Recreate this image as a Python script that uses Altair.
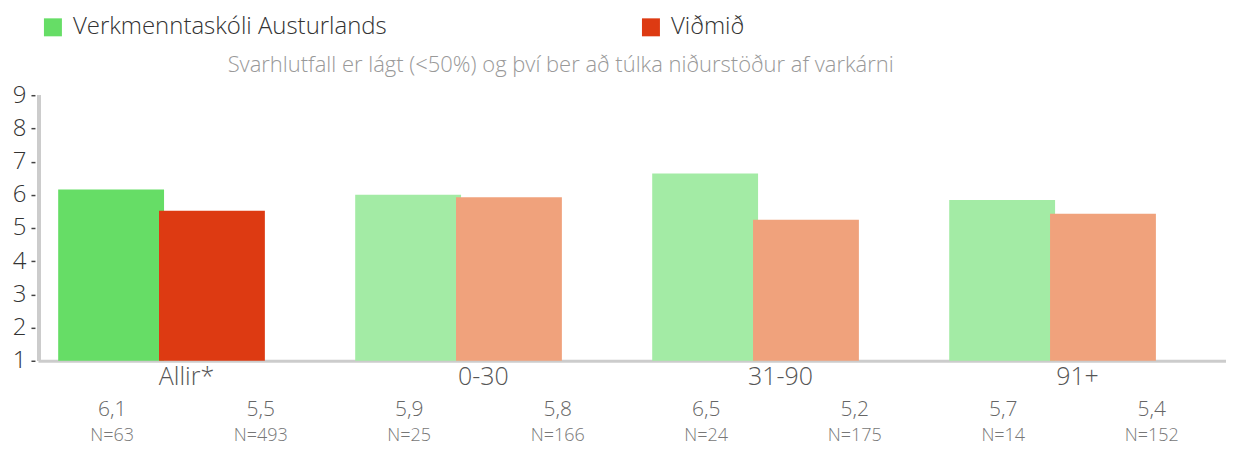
import altair as alt
import pandas as pd

categories = ["Allir*", "0-30", "31-90", "91+"]
series_names = ["Verkmenntaskóli Austurlands", "Viðmið"]
school_values = [6.16, 6.0, 6.64, 5.84]
benchmark_values = [5.52, 5.93, 5.25, 5.43]
school_labels = ["6,1", "5,9", "6,5", "5,7"]
benchmark_labels = ["5,5", "5,8", "5,2", "5,4"]
school_n = [63, 25, 24, 14]
benchmark_n = [493, 166, 175, 152]
subtitle = "Svarhlutfall er lágt (<50%) og því ber að túlka niðurstöður af varkárni"

color_keys = [series_names[0], series_names[1],
              series_names[0] + " (ljós)", series_names[1] + " (ljós)"]
color_range = ["#66DD66", "#DD3A12", "#A3EBA5", "#F0A27C"]

rows = []
for s, vals, labs, ns in [(series_names[0], school_values, school_labels, school_n),
                          (series_names[1], benchmark_values, benchmark_labels, benchmark_n)]:
    for i, c in enumerate(categories):
        key = s if c == "Allir*" else s + " (ljós)"
        rows.append({"category": c, "series": s, "value": vals[i],
                     "label": labs[i], "n": f"N={ns[i]}", "key": key})
df = pd.DataFrame(rows)

FONT = "Open Sans"
W8 = 300
H = 266
W = 1190

x_enc = alt.X("category:N", sort=categories,
              scale=alt.Scale(paddingInner=0, paddingOuter=0),
              axis=alt.Axis(title=None, domain=True, domainColor="#cccccc", domainWidth=3,
                            ticks=False, labelFontSize=25, labelColor="#555555",
                            labelPadding=4, labelAngle=0, labelFont=FONT,
                            labelFontWeight=W8))

bars = alt.Chart(df).mark_bar(width=alt.RelativeBandSize(1.05)).encode(
    x=x_enc,
    xOffset=alt.XOffset("series:N", sort=series_names,
                        scale=alt.Scale(paddingInner=0, paddingOuter=0.473, align=0.29)),
    y=alt.Y("value:Q", scale=alt.Scale(domain=[1, 9], nice=False, zero=False),
            axis=alt.Axis(title=None, values=list(range(1, 10)), format="d", domain=False,
                          grid=False, offset=3, tickSize=4, tickColor="#444444", tickWidth=1.5,
                          labelFontSize=24, labelColor="#333333", labelFont=FONT,
                          labelFontWeight=W8, labelPadding=5)),
    y2=alt.datum(1),
    color=alt.Color("key:N",
                    scale=alt.Scale(domain=color_keys, range=color_range),
                    legend=alt.Legend(orient="none", legendX=3, legendY=-80,
                                      direction="horizontal", title=None,
                                      symbolType="square", symbolSize=324,
                                      symbolStrokeWidth=0, symbolOpacity=1,
                                      labelFontSize=24, labelFont=FONT,
                                      labelFontWeight=W8, labelLimit=0,
                                      labelColor="#333333", columnPadding=252,
                                      labelOffset=8, values=series_names, padding=0)),
)

yline = alt.Chart(df).mark_rule(color="#cccccc", strokeWidth=3).encode(
    x=alt.value(1), y=alt.value(0), y2=alt.value(H)
)

value_text = alt.Chart(df).mark_text(fontSize=21, color="#666666", font=FONT,
                                     fontWeight=W8, baseline="middle").encode(
    x=alt.X("category:N", sort=categories),
    xOffset=alt.XOffset("series:N", sort=series_names),
    y=alt.value(315),
    text="label:N",
)

n_text = alt.Chart(df).mark_text(fontSize=18, color="#777777", font=FONT,
                                 fontWeight=W8, baseline="alphabetic").encode(
    x=alt.X("category:N", sort=categories),
    xOffset=alt.XOffset("series:N", sort=series_names),
    y=alt.value(346),
    text="n:N",
)

chart = alt.layer(bars, yline, value_text, n_text).resolve_scale(
    xOffset="independent"
).properties(
    width=W, height=H,
    autosize=alt.AutoSizeParams(type="none"),
    padding={"left": 30, "top": 87, "right": 0, "bottom": 85},
    title=alt.Title(subtitle, anchor="start", frame="group", dx=190, offset=-62,
                    fontSize=22, font=FONT, color="#999999", fontWeight=W8),
).configure_view(stroke=None)

chart.save("out.html", embed_options={"renderer": "svg", "actions": False})
